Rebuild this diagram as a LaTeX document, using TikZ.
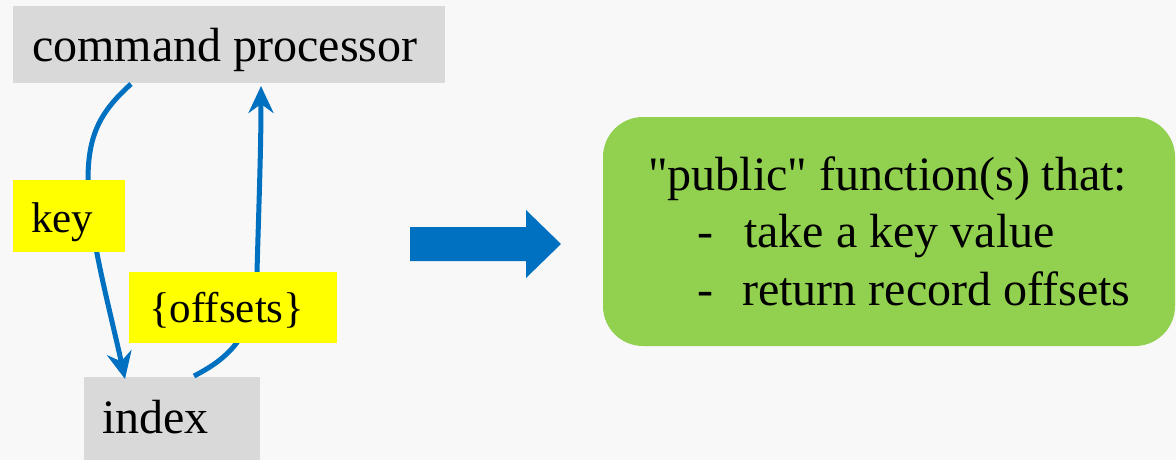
\documentclass[tikz,border=0pt]{standalone}
\usepackage{fontspec}
\setmainfont{Liberation Serif}
\newfontfamily\tnr{Liberation Serif}
\usetikzlibrary{arrows.meta}
\definecolor{bgc}{HTML}{F8F8F8}
\definecolor{boxgray}{HTML}{D9D9D9}
\definecolor{lblyellow}{HTML}{FFFF00}
\definecolor{flowblue}{HTML}{0070C0}
\definecolor{funcgreen}{HTML}{92D050}
\tikzset{
  graybox/.style={fill=boxgray, draw=none, inner sep=0pt},
  lblbox/.style={fill=lblyellow, draw=none, inner sep=0pt},
  bigtext/.style={anchor=base west, inner sep=0pt, font=\tnr\fontsize{48}{57.5}\selectfont},
  lbltext/.style={anchor=base west, inner sep=0pt, font=\tnr\fontsize{43}{50}\selectfont},
  flow/.style={draw=flowblue, line width=5pt, -{Stealth[length=27pt, width=25pt, inset=9pt]}},
}
\begin{document}
\begin{tikzpicture}[x=1pt, y=-1pt]
\useasboundingbox (0,0) rectangle (1176,460);
\fill[bgc] (0,0) rectangle (1176,460);
% boxes
\node[graybox, minimum width=432pt, minimum height=77pt] (cp) at (229,44.5) {};
\node[bigtext] (cptext) at (32,62) {command processor};
\node[graybox, minimum width=176pt, minimum height=83pt] (idx) at (172,418.5) {};
\node[bigtext] (idxtext) at (102,433) {index};
% connectors
\coordinate (cpout) at (131,84);
\coordinate (cpin) at (261,86);
\coordinate (idxin) at (125,379);
\coordinate (idxout) at (194,376);
\draw[flow] (cpout) .. controls (100,112) and (88,135) .. (88,180)
   .. controls (88,230) and (110,310) .. (idxin);
\draw[flow] (idxout) .. controls (235,355) and (255,330) .. (257,272)
   .. controls (259,200) and (261,150) .. (cpin);
% labels
\node[lblbox, minimum width=112pt, minimum height=72pt] (keylbl) at (69,216) {};
\node[lbltext] (keytext) at (31,232) {key};
\node[lblbox, minimum width=208pt, minimum height=71pt] (offlbl) at (233,307.5) {};
\node[lbltext] (offtext) at (149,322) {\{offsets\}};
% big arrow
\fill[flowblue] (410,227) -- (526,227) -- (526,210) -- (561,244) -- (526,278) -- (526,261) -- (410,261) -- cycle;
% green box
\node[fill=funcgreen, draw=none, rounded corners=40pt, minimum width=572pt, minimum height=229pt, inner sep=0pt] (func) at (889,231.5) {};
\node[bigtext] (l1) at (648,190) {\textquotedbl public\textquotedbl{} function(s) that:};
\node[bigtext] (d2) at (697,247) {-};
\node[bigtext] (l2) at (744,247) {take a key value};
\node[bigtext] (d3) at (697,305) {-};
\node[bigtext] (l3) at (742,305) {return record offsets};
\end{tikzpicture}
\end{document}
